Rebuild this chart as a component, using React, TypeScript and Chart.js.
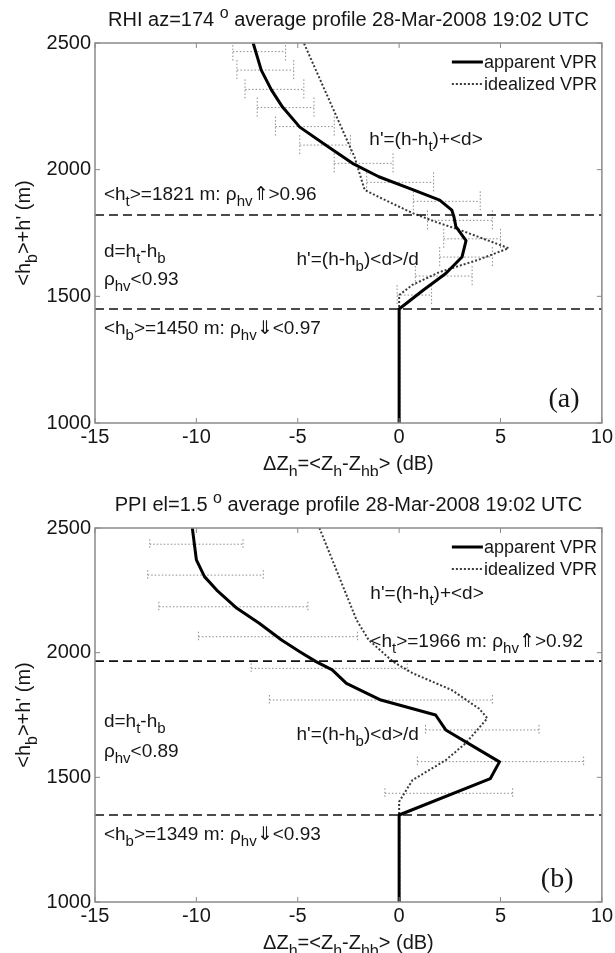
import React, { useEffect, useRef } from 'react';
import { Chart, registerables } from 'chart.js';

Chart.register(...registerables);

// ---------- shared axes ----------
const X_MIN = -15;
const X_MAX = 10;
const X_STEP = 5;
const H_MIN = 1000;
const H_MAX = 2500;
const H_STEP = 500;

// ---------- panel (a): RHI az=174 ----------
const A_APPARENT_DZ = [0, 0, 1.2, 2.3, 3.1, 3.3, 2.8, 2.7, 2.6, 2.0, 0.7, -1.0, -2.3, -3.5, -4.9, -5.75, -6.3, -6.8, -7.2];
const A_APPARENT_H = [1000, 1450, 1525, 1590, 1655, 1720, 1775, 1815, 1840, 1880, 1920, 1972, 2025, 2090, 2168, 2247, 2315, 2393, 2500];
const A_IDEAL_DZ = [0, 0, 0, 0.65, 2.0, 3.9, 5.4, 3.0, 1.8, 0.65, -1.0, -1.7, -2.2, -4.7];
const A_IDEAL_H = [1000, 1450, 1505, 1545, 1596, 1644, 1690, 1762, 1794, 1829, 1892, 1920, 2050, 2500];
const A_ERR_H = [2466, 2393, 2317, 2245, 2170, 2097, 2025, 1950, 1875, 1800, 1727, 1655, 1580, 1505];
const A_ERR_LO = [-8.2, -8.0, -7.6, -7.0, -6.1, -4.9, -3.2, -1.6, 0.7, 1.4, 2.2, 2.0, 0.8, -0.1];
const A_ERR_HI = [-5.6, -5.2, -4.7, -4.2, -3.2, -2.4, -0.3, 1.7, 4.0, 4.6, 5.0, 4.6, 3.6, 1.6];
const A_HT = 1821;
const A_HB = 1450;

// ---------- panel (b): PPI el=1.5 ----------
const B_APPARENT_DZ = [0, 0, 4.5, 4.95, 3.95, 2.3, 1.8, -0.9, -2.6, -3.3, -4.1, -4.9, -5.8, -6.9, -8.0, -9.0, -9.6, -10.0, -10.2];
const B_APPARENT_H = [1000, 1349, 1495, 1562, 1610, 1690, 1750, 1810, 1877, 1931, 1964, 2004, 2051, 2118, 2178, 2251, 2305, 2372, 2500];
const B_IDEAL_DZ = [0, 0, 0, 0.66, 2.3, 3.3, 4.35, 3.95, 2.6, 0.66, -0.3, -1.5, -2.1, -3.93];
const B_IDEAL_H = [1000, 1349, 1402, 1489, 1569, 1638, 1737, 1775, 1850, 1918, 1964, 2051, 2131, 2500];
const B_ERR_H = [2435, 2311, 2184, 2064, 1937, 1810, 1690, 1563, 1436];
const B_ERR_LO = [-12.3, -12.4, -11.85, -9.9, -7.3, -6.4, 1.3, 0.9, -0.7];
const B_ERR_HI = [-7.7, -6.7, -4.5, -2.05, 0.4, 4.6, 6.9, 9.1, 5.6];
const B_HT = 1966;
const B_HB = 1349;

const SERIES_LABELS = ['apparent VPR', 'idealized VPR'];

// ---------- text helpers ----------
const SANS = '"Liberation Sans", Arial, Helvetica, sans-serif';
const SERIF = '"Liberation Serif", "Times New Roman", serif';
const INK = '#161616';

type Seg = { t: string; s?: 'sub' | 'sup' };

function parseRich(s: string): Seg[] {
  const segs: Seg[] = [];
  let buf = '';
  let i = 0;
  while (i < s.length) {
    const c = s[i];
    if ((c === '_' || c === '^') && s[i + 1] === '{') {
      if (buf) { segs.push({ t: buf }); buf = ''; }
      const end = s.indexOf('}', i + 2);
      segs.push({ t: s.slice(i + 2, end), s: c === '_' ? 'sub' : 'sup' });
      i = end + 1;
    } else {
      buf += c;
      i++;
    }
  }
  if (buf) segs.push({ t: buf });
  return segs;
}

function drawRich(ctx: CanvasRenderingContext2D, text: string, x: number, yMid: number, size: number,
  align: 'left' | 'center' | 'right', family = SANS) {
  const segs = parseRich(text);
  const fontOf = (sg: Seg) => `${sg.s ? Math.round(size * 0.8) : size}px ${family}`;
  let total = 0;
  for (const sg of segs) { ctx.font = fontOf(sg); total += ctx.measureText(sg.t).width; }
  let cx = align === 'left' ? x : align === 'center' ? x - total / 2 : x - total;
  const base = yMid + size * 0.36;
  ctx.textAlign = 'left';
  ctx.textBaseline = 'alphabetic';
  ctx.fillStyle = INK;
  for (const sg of segs) {
    ctx.font = fontOf(sg);
    const dy = sg.s === 'sub' ? size * 0.32 : sg.s === 'sup' ? -size * 0.42 : 0;
    ctx.fillText(sg.t, cx, base + dy);
    cx += ctx.measureText(sg.t).width;
  }
}

type Note = { text: string; x: number; h: number };
type PanelCfg = {
  height: number; top: number; bottom: number;
  title: string; tag: string; tagX: number; tagH: number;
  apparentDz: number[]; apparentH: number[];
  idealDz: number[]; idealH: number[];
  errH: number[]; errLo: number[]; errHi: number[];
  refs: number[]; notes: Note[]; cap: number;
};

const PANEL_A: PanelCfg = {
  height: 476, top: 43, bottom: 423,
  title: 'RHI az=174 ^{o} average profile 28-Mar-2008 19:02 UTC',
  tag: '(a)', tagX: 8.9, tagH: 1103,
  apparentDz: A_APPARENT_DZ, apparentH: A_APPARENT_H,
  idealDz: A_IDEAL_DZ, idealH: A_IDEAL_H,
  errH: A_ERR_H, errLo: A_ERR_LO, errHi: A_ERR_HI,
  refs: [A_HT, A_HB], cap: 10,
  notes: [
    { text: "h'=(h-h_{t})+<d>", x: -1.47, h: 2125 },
    { text: `<h_{t}>=${A_HT} m: ρ_{hv}⇑>0.96`, x: -14.56, h: 1908 },
    { text: 'd=h_{t}-h_{b}', x: -14.56, h: 1683 },
    { text: 'ρ_{hv}<0.93', x: -14.56, h: 1573 },
    { text: "h'=(h-h_{b})<d>/d", x: -5.06, h: 1652 },
    { text: `<h_{b}>=${A_HB} m: ρ_{hv}⇓<0.97`, x: -14.56, h: 1379 },
  ],
};

const PANEL_B: PanelCfg = {
  height: 477, top: 52, bottom: 426,
  title: 'PPI el=1.5 ^{o} average profile 28-Mar-2008 19:02 UTC',
  tag: '(b)', tagX: 8.6, tagH: 1100,
  apparentDz: B_APPARENT_DZ, apparentH: B_APPARENT_H,
  idealDz: B_IDEAL_DZ, idealH: B_IDEAL_H,
  errH: B_ERR_H, errLo: B_ERR_LO, errHi: B_ERR_HI,
  refs: [B_HT, B_HB], cap: 5,
  notes: [
    { text: "h'=(h-h_{t})+<d>", x: -1.42, h: 2243 },
    { text: `<h_{t}>=${B_HT} m: ρ_{hv}⇑>0.92`, x: -1.42, h: 2051 },
    { text: 'd=h_{t}-h_{b}', x: -14.56, h: 1730 },
    { text: 'ρ_{hv}<0.89', x: -14.56, h: 1610 },
    { text: "h'=(h-h_{b})<d>/d", x: -5.06, h: 1678 },
    { text: `<h_{b}>=${B_HB} m: ρ_{hv}⇓<0.93`, x: -14.56, h: 1277 },
  ],
};

function makeDecor(cfg: PanelCfg) {
  return {
    id: 'decor',
    beforeDatasetsDraw(chart: any) {
      const { ctx, chartArea: a, scales } = chart;
      const xs = scales.x, ys = scales.y;
      ctx.save();
      ctx.beginPath();
      ctx.rect(a.left, a.top, a.right - a.left, a.bottom - a.top);
      ctx.clip();
      ctx.strokeStyle = '#8c8c8c';
      ctx.lineWidth = 1;
      ctx.setLineDash([1.5, 2]);
      cfg.errH.forEach((h, i) => {
        const py = ys.getPixelForValue(h);
        const x1 = xs.getPixelForValue(cfg.errLo[i]);
        const x2 = xs.getPixelForValue(cfg.errHi[i]);
        ctx.beginPath();
        ctx.moveTo(x1, py); ctx.lineTo(x2, py);
        ctx.moveTo(x1, py - cfg.cap); ctx.lineTo(x1, py + cfg.cap);
        ctx.moveTo(x2, py - cfg.cap); ctx.lineTo(x2, py + cfg.cap);
        ctx.stroke();
      });
      ctx.restore();
    },
    afterDatasetsDraw(chart: any) {
      const { ctx, chartArea: a, scales } = chart;
      const xs = scales.x, ys = scales.y;
      ctx.save();
      // reference (dashed) heights
      ctx.strokeStyle = '#111';
      ctx.lineWidth = 1.6;
      ctx.setLineDash([9, 5]);
      cfg.refs.forEach((h) => {
        const py = ys.getPixelForValue(h);
        ctx.beginPath(); ctx.moveTo(a.left, py); ctx.lineTo(a.right, py); ctx.stroke();
      });
      ctx.setLineDash([]);
      // frame
      ctx.strokeStyle = '#8a8a8a';
      ctx.lineWidth = 1.5;
      ctx.strokeRect(a.left, a.top, a.right - a.left, a.bottom - a.top);
      // inward ticks
      ctx.lineWidth = 1;
      xs.ticks.forEach((t: any) => {
        const px = xs.getPixelForValue(t.value);
        ctx.beginPath();
        ctx.moveTo(px, a.bottom); ctx.lineTo(px, a.bottom - 5);
        ctx.moveTo(px, a.top); ctx.lineTo(px, a.top + 5);
        ctx.stroke();
      });
      ys.ticks.forEach((t: any) => {
        const py = ys.getPixelForValue(t.value);
        ctx.beginPath();
        ctx.moveTo(a.left, py); ctx.lineTo(a.left + 5, py);
        ctx.moveTo(a.right, py); ctx.lineTo(a.right - 5, py);
        ctx.stroke();
      });
      // legend
      chart.data.datasets.forEach((ds: any, i: number) => {
        const py = a.top + 19 + i * 22;
        ctx.strokeStyle = ds.borderColor;
        ctx.lineWidth = ds.borderWidth;
        ctx.setLineDash(ds.borderDash || []);
        ctx.beginPath(); ctx.moveTo(a.right - 150, py); ctx.lineTo(a.right - 119, py); ctx.stroke();
        ctx.setLineDash([]);
        drawRich(ctx, ds.label, a.right - 118, py, 18, 'left');
      });
      // notes
      cfg.notes.forEach((n) => {
        drawRich(ctx, n.text, xs.getPixelForValue(n.x), ys.getPixelForValue(n.h), 19, 'left');
      });
      drawRich(ctx, cfg.tag, xs.getPixelForValue(cfg.tagX), ys.getPixelForValue(cfg.tagH), 28, 'right', SERIF);
      // title
      drawRich(ctx, cfg.title, (a.left + a.right) / 2, a.top - 24, 20, 'center');
      // x title
      drawRich(ctx, 'ΔZ_{h}=<Z_{h}-Z_{hb}> (dB)', (a.left + a.right) / 2, a.bottom + 40, 20, 'center');
      // y title (rotated)
      ctx.translate(23, (a.top + a.bottom) / 2);
      ctx.rotate(-Math.PI / 2);
      drawRich(ctx, "<h_{b}>+h' (m)", 0, 0, 20, 'center');
      ctx.restore();
    },
  };
}

function pts(xs: number[], hs: number[]) {
  return xs.map((v, i) => ({ x: v, y: hs[i] }));
}

function Panel({ cfg }: { cfg: PanelCfg }) {
  const ref = useRef<HTMLCanvasElement>(null);
  useEffect(() => {
    const tickFont = { family: SANS, size: 20 };
    const chart = new Chart(ref.current as HTMLCanvasElement, {
      type: 'scatter',
      data: {
        datasets: [
          {
            label: SERIES_LABELS[0],
            data: pts(cfg.apparentDz, cfg.apparentH),
            showLine: true, borderColor: '#000', borderWidth: 3,
            pointRadius: 0, tension: 0, borderJoinStyle: 'round',
          } as any,
          {
            label: SERIES_LABELS[1],
            data: pts(cfg.idealDz, cfg.idealH),
            showLine: true, borderColor: '#3a3a3a', borderWidth: 2, borderDash: [2, 2],
            pointRadius: 0, tension: 0,
          } as any,
        ],
      },
      options: {
        animation: false,
        responsive: false,
        maintainAspectRatio: false,
        layout: { padding: { top: cfg.top, right: 12, left: 0, bottom: 0 } },
        plugins: { legend: { display: false }, title: { display: false }, tooltip: { enabled: false } },
        scales: {
          x: {
            type: 'linear', min: X_MIN, max: X_MAX,
            ticks: { stepSize: X_STEP, font: tickFont, color: INK, padding: 2, maxRotation: 0,
              callback: (v: any) => String(v) },
            grid: { display: false, drawTicks: false },
            border: { display: false },
            afterFit: (s: any) => { s.height = cfg.height - cfg.bottom; },
          },
          y: {
            type: 'linear', min: H_MIN, max: H_MAX,
            ticks: { stepSize: H_STEP, font: tickFont, color: INK, padding: 4,
              callback: (v: any) => String(v) },
            grid: { display: false, drawTicks: false },
            border: { display: false },
            afterFit: (s: any) => { s.width = 95; },
          },
        },
      } as any,
      plugins: [makeDecor(cfg)],
    });
    return () => chart.destroy();
  }, [cfg]);
  return <canvas ref={ref} width={615} height={cfg.height} style={{ display: 'block', width: 615, height: cfg.height }} />;
}

export default function App() {
  return (
    <div style={{ position: 'absolute', left: 0, top: 0, width: 615, height: 953, background: '#fff' }}>
      <Panel cfg={PANEL_A} />
      <Panel cfg={PANEL_B} />
    </div>
  );
}
